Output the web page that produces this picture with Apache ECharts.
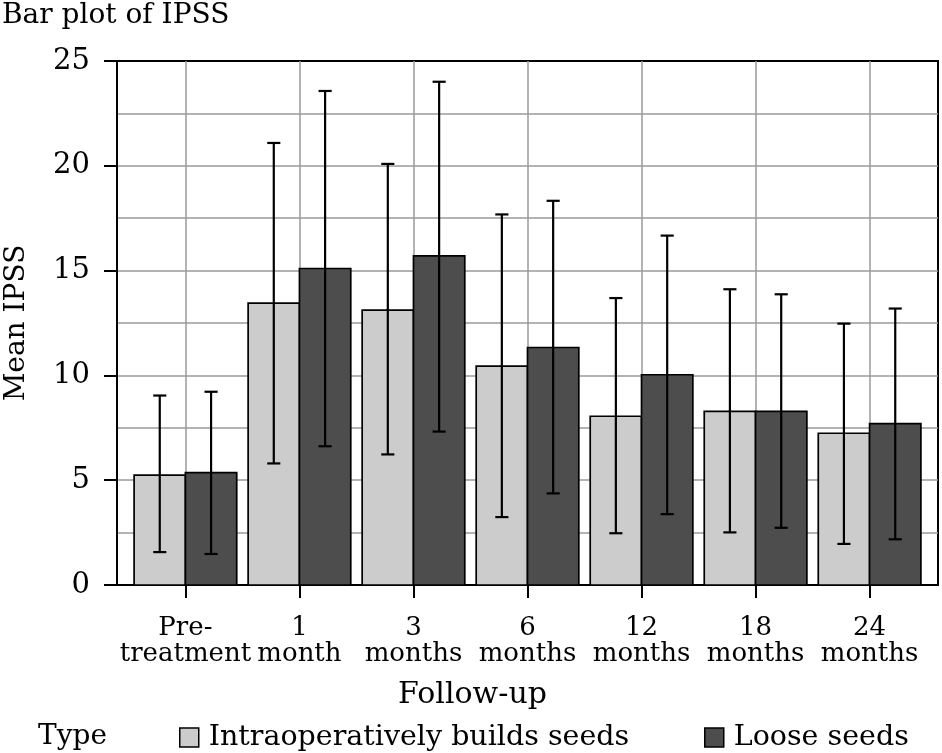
<!DOCTYPE html>
<html>
<head>
<meta charset="utf-8">
<script src="https://cdn.jsdelivr.net/npm/echarts@6/dist/echarts.min.js"></script>
<style>
html,body{margin:0;padding:0;background:#fff;}
#chart{width:942px;height:753px;}
</style>
</head>
<body>
<div id="chart"></div>
<script>
const categories = ['Pre-\ntreatment','1\nmonth','3\nmonths','6\nmonths','12\nmonths','18\nmonths','24\nmonths'];
const seriesNames = ['Intraoperatively builds seeds','Loose seeds'];
const intraMean = [5.24, 13.45, 13.11, 10.44, 8.05, 8.28, 7.24];
const intraLow  = [1.57, 5.80, 6.23, 3.24, 2.47, 2.51, 1.96];
const intraHigh = [9.04, 21.09, 20.09, 17.68, 13.69, 14.11, 12.47];
const looseMean = [5.36, 15.10, 15.70, 11.33, 10.03, 8.28, 7.70];
const looseLow  = [1.48, 6.62, 7.32, 4.37, 3.38, 2.73, 2.18];
const looseHigh = [9.22, 23.57, 24.01, 18.33, 16.67, 13.87, 13.19];
const yTicks = [0, 5, 10, 15, 20, 25];

const FONT = 'DejaVu Serif';
const LIGHT = '#cccccc';
const DARK = '#4d4d4d';
const GRIDC = '#9a9a9a';
const DODGE = 0.45;

const catPos = categories.map((c, i) => i + 1);

function barSeries(name, means, color, side) {
  return {
    type: 'custom',
    name: name,
    z: 3,
    itemStyle: {color: color, borderColor: '#000', borderWidth: 1.5},
    encode: {x: 0, y: 1},
    data: means.map((v, i) => [catPos[i], v]),
    renderItem: function (params, api) {
      const x = api.value(0), y = api.value(1);
      const xa = side < 0 ? x - DODGE : x;
      const xb = side < 0 ? x : x + DODGE;
      const p0 = api.coord([xa, y]);
      const p1 = api.coord([xb, 0]);
      return {
        type: 'rect',
        shape: {x: p0[0], y: p0[1], width: p1[0] - p0[0], height: p1[1] - p0[1]},
        style: {fill: color, stroke: '#000', lineWidth: 1.7}
      };
    }
  };
}

function errSeries(name, low, high, side) {
  return {
    type: 'custom',
    name: name,
    z: 4,
    encode: {x: 0, y: [1, 2]},
    data: low.map((v, i) => [catPos[i], v, high[i]]),
    renderItem: function (params, api) {
      const x = api.value(0) + side * DODGE / 2;
      const lo = api.coord([x, api.value(1)]);
      const hi = api.coord([x, api.value(2)]);
      const cap = api.size([0.115, 0])[0] / 2;
      const st = {stroke: '#000', lineWidth: 2.2};
      return {
        type: 'group',
        children: [
          {type: 'line', shape: {x1: hi[0], y1: hi[1], x2: lo[0], y2: lo[1]}, style: st},
          {type: 'line', shape: {x1: hi[0] - cap, y1: hi[1], x2: hi[0] + cap, y2: hi[1]}, style: st},
          {type: 'line', shape: {x1: lo[0] - cap, y1: lo[1], x2: lo[0] + cap, y2: lo[1]}, style: st}
        ]
      };
    }
  };
}

const chart = echarts.init(document.getElementById('chart'), null, {renderer: 'canvas'});
chart.setOption({
  backgroundColor: '#fff',
  animation: false,
  textStyle: {fontFamily: FONT, color: '#000'},
  title: [
    {text: 'Bar plot of IPSS', left: 2, top: 2, padding: 0,
     textStyle: {fontFamily: FONT, fontSize: 28, fontWeight: 'normal', color: '#000'}},
    {text: 'Type', left: 38, top: 723, padding: 0,
     textStyle: {fontFamily: FONT, fontSize: 28, fontWeight: 'normal', color: '#000'}}
  ],
  legend: [
    {left: 179, top: 723, padding: 0, icon: 'rect', itemWidth: 19, itemHeight: 19, itemGap: 0,
     textStyle: {fontFamily: FONT, fontSize: 28.5, color: '#000', padding: [0, 0, 0, 5]},
     data: [{name: seriesNames[0], itemStyle: {color: LIGHT, borderColor: '#000', borderWidth: 1.5}}]},
    {left: 704, top: 723, padding: 0, icon: 'rect', itemWidth: 19, itemHeight: 19, itemGap: 0,
     textStyle: {fontFamily: FONT, fontSize: 28.5, color: '#000', padding: [0, 0, 0, 5]},
     data: [{name: seriesNames[1], itemStyle: {color: DARK, borderColor: '#000', borderWidth: 1.5}}]}
  ],
  grid: {left: 117, right: 4, top: 61, bottom: 168, show: true, borderColor: '#000', borderWidth: 2,
         backgroundColor: 'transparent', containLabel: false, outerBoundsMode: 'none'},
  xAxis: {
    type: 'value', min: 0.4, max: 7.6,
    name: 'Follow-up', nameLocation: 'middle', nameGap: 95,
    nameTextStyle: {fontFamily: FONT, fontSize: 30, color: '#000', padding: [0, 110, 0, 0]},
    axisLine: {show: true, onZero: false, lineStyle: {color: '#000', width: 2}},
    axisTick: {show: true, length: 13, customValues: catPos, lineStyle: {color: '#000', width: 2}},
    axisLabel: {customValues: catPos, margin: 30, fontFamily: FONT, fontSize: 26, lineHeight: 26, color: '#000',
                formatter: function (v) { return categories[Math.round(v) - 1] || ''; }},
    splitLine: {show: true, lineStyle: {color: GRIDC, width: 1.5}}
  },
  yAxis: {
    type: 'value', min: yTicks[0], max: yTicks[yTicks.length - 1], interval: 5,
    name: 'Mean IPSS', nameLocation: 'middle', nameGap: 86, nameRotate: 90,
    nameTextStyle: {fontFamily: FONT, fontSize: 28, color: '#000'},
    axisLine: {show: true, lineStyle: {color: '#000', width: 2}},
    axisTick: {show: true, length: 13, lineStyle: {color: '#000', width: 2}},
    axisLabel: {margin: 27, fontFamily: FONT, fontSize: 29, color: '#000'},
    splitLine: {show: true, showMaxLine: false, showMinLine: false, lineStyle: {color: GRIDC, width: 1.5}},
    minorTick: {show: false, splitNumber: 2},
    minorSplitLine: {show: true, lineStyle: {color: GRIDC, width: 1.5}}
  },
  series: [
    barSeries(seriesNames[0], intraMean, LIGHT, -1),
    barSeries(seriesNames[1], looseMean, DARK, 1),
    errSeries('err1', intraLow, intraHigh, -1),
    errSeries('err2', looseLow, looseHigh, 1)
  ]
});
</script>
</body>
</html>
